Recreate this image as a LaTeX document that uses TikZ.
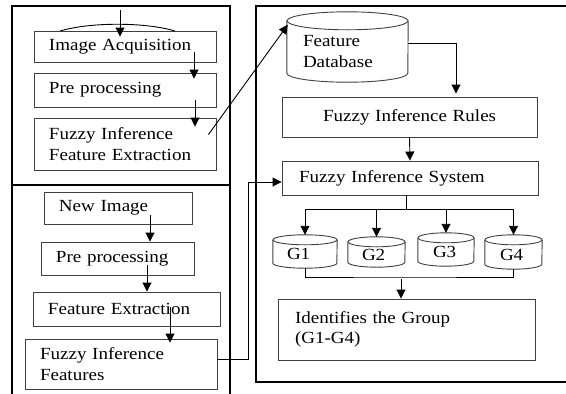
\documentclass[tikz,border=0pt]{standalone}
\usepackage{fontspec}
\setmainfont[FakeStretch=1.12]{Liberation Serif}
\usetikzlibrary{arrows.meta,calc}
\newcommand{\ix}[1]{\hspace*{#1pt}}
\tikzset{
  panel/.style={draw=black, line width=1.8pt},
  box/.style 2 args={draw=black!75, line width=0.9pt, inner xsep=0pt, inner ysep=0pt,
    minimum width=#1, text width=#1, minimum height=#2, align=left,
    font=\fontsize{17}{20.5}\selectfont},
  cylbody/.style 2 args={inner xsep=0pt, inner ysep=0pt,
    minimum width=#1, text width=#1, minimum height=#2, align=left,
    font=\fontsize{17}{20.5}\selectfont},
  cyl/.style={draw=black!75, line width=0.9pt},
  arr/.style={draw=black, line width=0.9pt, -{Triangle[width=9pt,length=9pt]}},
  ln/.style={draw=black, line width=0.9pt}
}
\begin{document}
\begin{tikzpicture}[x=1pt,y=-1pt]
\useasboundingbox (0,0) rectangle (566,394);
% panels
\draw[panel] (12,6) rectangle (230,185);
\draw[panel] (12,185) rectangle (230,402);
\draw[panel] (256,6) rectangle (574,382);

% left top
\node[box={182}{31}] (acq) at (125,46.5) {\ix{15}Image Acquisition};
\node[box={182}{34}] (pre1) at (125,90) {\ix{15}Pre processing};
\node[box={182}{52}] (fie) at (125,144) {\ix{15}Fuzzy Inference\\\ix{15}Feature Extraction};
\coordinate (in) at (120,10);
\draw[ln] (60,31) .. controls (90,22) and (145,22) .. (175,31);
\draw[arr] (in) -- ($(acq.north -| in)+(0,6)$);
\draw[arr] ($(acq.south)+(69,-10)$) -- ($(pre1.north)+(69,6)$);
\draw[arr] ($(pre1.south)+(70,-7)$) -- ($(fie.north)+(70,9)$);

% left bottom
\node[box={148}{32}] (newimg) at (118,208) {\ix{15}New Image};
\node[box={153}{33}] (pre2) at (117.5,258.5) {\ix{15}Pre processing};
\node[box={187}{34}] (fe) at (126.5,309) {\ix{15}Feature Extraction};
\node[box={192}{50}] (fif) at (121,364) {\ix{15}Fuzzy Inference\\\ix{15}Features};
\draw[arr] ($(newimg.south)+(32,-9)$) -- ($(pre2.north)+(32.5,0)$);
\draw[arr] ($(pre2.south)+(29.5,-10)$) -- ($(fe.north)+(20.5,0)$);
\draw[arr] ($(fe.south)+(43.5,-19)$) -- ($(fif.north)+(49,4)$);

% right
\node[cylbody={121}{61}] (fdb) at (347.5,51.5) {\ix{16}Feature\\\ix{16}Database};
\draw[cyl] (fdb.north west) -- ($(fdb.south west)+(0,-9)$)
  arc[start angle=180, end angle=0, x radius=60.5, y radius=9] -- (fdb.north east);
\draw[cyl] (fdb.north) ellipse [x radius=60.5, y radius=9];

\node[box={255}{40}] (rules) at (409.5,117) {\ix{41}Fuzzy Inference Rules};
\node[box={256}{34}] (sys) at (410,178) {\ix{17}Fuzzy Inference System};

\draw[arr] ($(fie.north east)+(-8,17)$) -- ($(fdb.north west)+(1,4)$);
\draw[arr] ($(fdb.east)+(0,-8)$) -| ($(rules.north)+(46.5,-3)$);
\draw[arr] (rules.south) -- (sys.north);
\draw[arr] ($(fif.east)+(0,-5)$) -- ++(31,0) |- ($(sys.west)+(0,4)$);

% groups
\node[cylbody={64}{28}] (g1) at (305,254) {\ix{14}G1};
\node[cylbody={57}{25}] (g2) at (376.5,254.5) {\ix{14}G2};
\node[cylbody={56}{28}] (g3) at (446,252) {\ix{15}G3};
\node[cylbody={57}{29}] (g4) at (513.5,254.5) {\ix{15}G4};
\foreach \g/\r in {g1/32,g2/28.5,g3/28,g4/28.5}{
  \draw[cyl] (\g.north west) -- ($(\g.south west)+(0,-5)$)
    arc[start angle=180, end angle=0, x radius=\r, y radius=5] -- (\g.north east);
  \draw[cyl] (\g.north) ellipse [x radius=\r, y radius=5];
}
\coordinate (split) at (406,209);
\draw[ln] (sys.south -| split) -- (split);
\foreach \g in {g1,g2,g3,g4}{
  \draw[arr] (split) -| ($(\g.north)+(0,-5)$);
}
\node[box={257}{61}] (ident) at (406.5,329.5) {\ix{17}Identifies the Group\\\ix{17}(G1-G4)};
\coordinate (merge) at (401,277);
\draw[ln] (g1.south) |- (merge) -| (g4.south);
\draw[arr] ($(merge)+(0,2)$) -- (merge |- ident.north);
\end{tikzpicture}
\end{document}
